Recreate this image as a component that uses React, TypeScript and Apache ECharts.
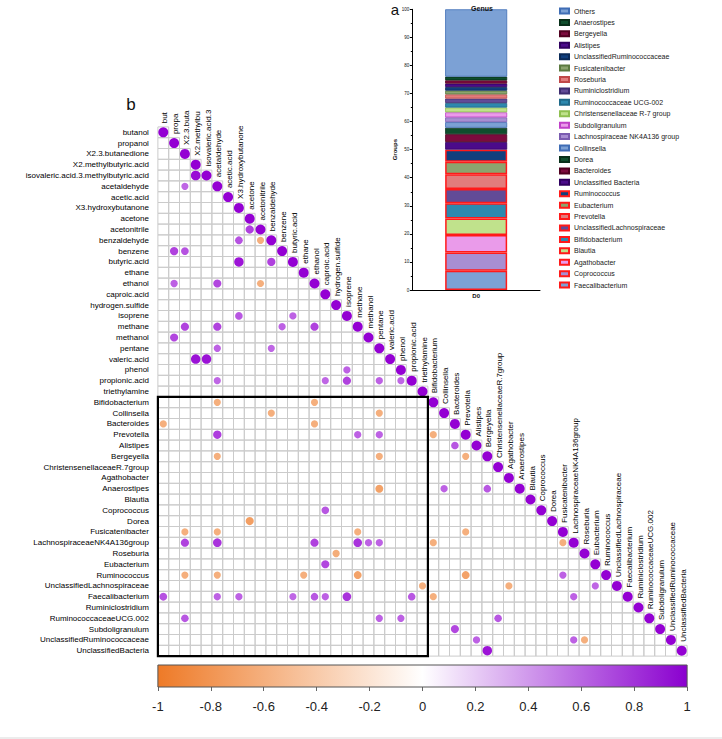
import { useEffect, useRef } from "react";
import * as echarts from "echarts";

const FONT = "'Liberation Sans', Arial, sans-serif";

// ---------- panel b : correlation matrix ----------
const gasVariables = [
  "butanol", "propanol", "X2.3.butanedione", "X2.methylbutyric.acid",
  "isovaleric.acid.3.methylbutyric.acid", "acetaldehyde", "acetic.acid",
  "X3.hydroxybutanone", "acetone", "acetonitrile", "benzaldehyde", "benzene",
  "butyric.acid", "ethane", "ethanol", "caproic.acid", "hydrogen.sulfide",
  "isoprene", "methane", "methanol", "pentane", "valeric.acid", "phenol",
  "propionic.acid", "triethylamine",
];
const bacteriaGenera = [
  "Bifidobacterium", "Collinsella", "Bacteroides", "Prevotella", "Alistipes",
  "Bergeyella", "ChristensenellaceaeR.7group", "Agathobacter", "Anaerostipes",
  "Blautia", "Coprococcus", "Dorea", "Fusicatenibacter",
  "LachnospiraceaeNK4A136group", "Roseburia", "Eubacterium", "Ruminococcus",
  "UnclassifiedLachnospiraceae", "Faecalibacterium", "Ruminiclostridium",
  "RuminococcaceaeUCG.002", "Subdoligranulum", "UnclassifiedRuminococcaceae",
  "UnclassifiedBacteria",
];
const variables = [...gasVariables, ...bacteriaGenera];
// diagonal labels that are cut by the top of the plotting region
const clippedDiagLabels = ["but", "propa", "X2.3.buta", "X2.methylbu", "isovaleric.acid.3"];

// [row, column, r]
const correlations: [string, string, number][] = [
  ["isovaleric.acid.3.methylbutyric.acid", "X2.methylbutyric.acid", 0.95],
  ["acetaldehyde", "X2.3.butanedione", 0.6],
  ["acetonitrile", "acetone", 0.75],
  ["benzaldehyde", "X3.hydroxybutanone", 0.68],
  ["benzaldehyde", "acetonitrile", -0.6],
  ["benzene", "propanol", 0.74],
  ["benzene", "X2.3.butanedione", 0.68],
  ["butyric.acid", "X3.hydroxybutanone", 0.92],
  ["butyric.acid", "benzaldehyde", 0.74],
  ["ethanol", "propanol", 0.62],
  ["ethanol", "acetaldehyde", 0.72],
  ["ethanol", "acetonitrile", -0.6],
  ["isoprene", "X3.hydroxybutanone", 0.66],
  ["isoprene", "butyric.acid", 0.62],
  ["methane", "X2.3.butanedione", 0.74],
  ["methane", "acetaldehyde", 0.74],
  ["methane", "benzene", 0.62],
  ["methane", "ethanol", 0.74],
  ["methanol", "propanol", 0.72],
  ["pentane", "acetaldehyde", 0.62],
  ["pentane", "benzaldehyde", 0.6],
  ["valeric.acid", "X2.methylbutyric.acid", 0.93],
  ["valeric.acid", "isovaleric.acid.3.methylbutyric.acid", 0.93],
  ["phenol", "isoprene", 0.62],
  ["propionic.acid", "acetaldehyde", 0.6],
  ["propionic.acid", "caproic.acid", 0.6],
  ["propionic.acid", "isoprene", 0.74],
  ["propionic.acid", "pentane", 0.62],
  ["propionic.acid", "phenol", 0.6],
  ["Bifidobacterium", "acetaldehyde", -0.6],
  ["Bifidobacterium", "ethanol", -0.6],
  ["Collinsella", "benzaldehyde", -0.6],
  ["Collinsella", "pentane", -0.6],
  ["Bacteroides", "butanol", -0.6],
  ["Bacteroides", "ethanol", -0.6],
  ["Prevotella", "acetaldehyde", 0.76],
  ["Prevotella", "methane", 0.62],
  ["Prevotella", "pentane", 0.62],
  ["Prevotella", "Bifidobacterium", -0.6],
  ["Alistipes", "Bacteroides", 0.66],
  ["Bergeyella", "acetaldehyde", -0.6],
  ["Bergeyella", "pentane", -0.6],
  ["Bergeyella", "Prevotella", -0.6],
  ["Anaerostipes", "pentane", -0.7],
  ["Anaerostipes", "Collinsella", 0.62],
  ["Anaerostipes", "Bergeyella", 0.66],
  ["Coprococcus", "caproic.acid", 0.66],
  ["Dorea", "acetone", -0.72],
  ["Fusicatenibacter", "X2.3.butanedione", -0.6],
  ["Fusicatenibacter", "acetaldehyde", -0.6],
  ["Fusicatenibacter", "methane", -0.6],
  ["Fusicatenibacter", "Prevotella", -0.6],
  ["LachnospiraceaeNK4A136group", "X2.3.butanedione", 0.74],
  ["LachnospiraceaeNK4A136group", "acetaldehyde", 0.8],
  ["LachnospiraceaeNK4A136group", "ethanol", 0.74],
  ["LachnospiraceaeNK4A136group", "methane", 0.8],
  ["LachnospiraceaeNK4A136group", "methanol", 0.62],
  ["LachnospiraceaeNK4A136group", "pentane", 0.62],
  ["LachnospiraceaeNK4A136group", "Bifidobacterium", -0.6],
  ["LachnospiraceaeNK4A136group", "Fusicatenibacter", -0.6],
  ["Roseburia", "hydrogen.sulfide", -0.62],
  ["Eubacterium", "caproic.acid", 0.72],
  ["Ruminococcus", "X2.3.butanedione", -0.6],
  ["Ruminococcus", "acetaldehyde", -0.6],
  ["Ruminococcus", "ethane", -0.6],
  ["Ruminococcus", "methane", -0.7],
  ["Ruminococcus", "Prevotella", -0.7],
  ["Ruminococcus", "Fusicatenibacter", 0.62],
  ["UnclassifiedLachnospiraceae", "triethylamine", -0.6],
  ["UnclassifiedLachnospiraceae", "Agathobacter", -0.6],
  ["UnclassifiedLachnospiraceae", "Eubacterium", 0.6],
  ["Faecalibacterium", "butanol", 0.68],
  ["Faecalibacterium", "acetaldehyde", 0.62],
  ["Faecalibacterium", "X3.hydroxybutanone", 0.62],
  ["Faecalibacterium", "butyric.acid", 0.6],
  ["Faecalibacterium", "ethanol", 0.66],
  ["Faecalibacterium", "caproic.acid", 0.62],
  ["Faecalibacterium", "isoprene", 0.8],
  ["Faecalibacterium", "propionic.acid", 0.66],
  ["Faecalibacterium", "Bifidobacterium", -0.6],
  ["Faecalibacterium", "LachnospiraceaeNK4A136group", 0.62],
  ["RuminococcaceaeUCG.002", "X2.3.butanedione", 0.66],
  ["RuminococcaceaeUCG.002", "pentane", 0.62],
  ["RuminococcaceaeUCG.002", "phenol", 0.62],
  ["RuminococcaceaeUCG.002", "ChristensenellaceaeR.7group", 0.66],
  ["Subdoligranulum", "Bacteroides", 0.72],
  ["UnclassifiedRuminococcaceae", "Alistipes", 0.62],
  ["UnclassifiedRuminococcaceae", "LachnospiraceaeNK4A136group", 0.62],
  ["UnclassifiedRuminococcaceae", "Roseburia", -0.6],
  ["UnclassifiedBacteria", "Bergeyella", 0.92],
];
const colorbarTicks = [-1, -0.8, -0.6, -0.4, -0.2, 0, 0.2, 0.4, 0.6, 0.8, 1];

// ---------- panel a : stacked bar ----------
const groups = ["D0"];
const genusStack = [
  "Faecalibacterium", "Coprococcus", "Agathobacter", "Blautia", "Bifidobacterium",
  "UnclassifiedLachnospiraceae", "Prevotella", "Eubacterium", "Ruminococcus",
  "Unclassified Bacteria", "Bacteroides", "Dorea", "Collinsella",
  "Lachnospiraceae NK4A136 group", "Subdoligranulum", "Christensenellaceae R-7 group",
  "Ruminococcaceae UCG-002", "Ruminiclostridium", "Roseburia", "Fusicatenibacter",
  "UnclassifiedRuminococcaceae", "Alistipes", "Bergeyella", "Anaerostipes", "Others",
];
const genusAbundance = [
  6.9, 6.5, 6.2, 5.9, 5.4, 5.1, 5.2, 4.5, 4.3,
  2.7, 2.8, 2.3, 2.0, 1.7, 1.8, 1.7, 1.6, 1.6, 1.5, 1.3, 1.3, 1.2, 1.2, 1.3, 24.0,
];
const highlightedGenera = genusStack.slice(0, 9);
const groupTicks = [0, 10, 20, 30, 40, 50, 60, 70, 80, 90, 100];

const paletteFill = ["#7CA1D5", "#A88ED2", "#EA9BEA", "#C0E28C", "#2D89AF", "#624B97",
  "#E27C7C", "#8CA46E", "#103F7D", "#4B0B8A", "#7C0B3E", "#0F4E2D"];
const paletteBorder = ["#3F6DB5", "#7A5CB0", "#C040C8", "#8FC050", "#1F6A8A", "#3E2C70",
  "#C04848", "#5C7A40", "#0A2A58", "#300060", "#500020", "#08301A"];

const NEG = "#EE7A27";
const POS = "#9400D3";

export default function App() {
  const ref = useRef<HTMLDivElement>(null);
  useEffect(() => {
    const chart = echarts.init(ref.current!, null, { renderer: "svg" });
    const idx = (n: string) => variables.indexOf(n);
    const n = variables.length;

    const cells: number[][] = [];
    for (let r = 0; r < n; r++) for (let c = 0; c <= r; c++) cells.push([c, r]);

    const dots: number[][] = variables.map((_, i) => [i, i, 1]);
    correlations.forEach(([row, col, v]) => dots.push([idx(col), idx(row), v]));

    const diagLabels = variables.map((v, i) => (i < clippedDiagLabels.length ? clippedDiagLabels[i] : v));

    const box = [[0, gasVariables.length, gasVariables.length - 1, n - 1]];

    const barSeries = genusStack.map((name, i) => {
      const hl = highlightedGenera.includes(name);
      return {
        type: "bar",
        name,
        stack: "genus",
        xAxisIndex: 1,
        yAxisIndex: 1,
        barWidth: 62,
        silent: true,
        data: [genusAbundance[i]],
        itemStyle: {
          color: paletteFill[i % 12],
          borderColor: hl ? "#FF1A1A" : paletteBorder[i % 12],
          borderWidth: hl ? 1.5 : 0.8,
        },
      };
    });

    const option: any = {
      animation: false,
      backgroundColor: "#fff",
      textStyle: { fontFamily: FONT },
      title: {
        text: "Genus",
        left: 477,
        top: 0,
        textAlign: "center",
        textStyle: { fontSize: 7, fontWeight: "bold", color: "#111", fontFamily: FONT },
      },
      legend: {
        orient: "vertical",
        left: 559,
        top: 7.5,
        padding: 0,
        itemWidth: 9,
        itemHeight: 5,
        itemGap: 4.42,
        icon: "rect",
        selectedMode: false,
        data: genusStack.slice().reverse(),
        textStyle: { fontSize: 7, lineHeight: 7, color: "#222", fontFamily: FONT },
      },
      grid: [
        { left: 157.9, top: 126.9, width: 529.2, height: 529.2 },
        { left: 412.3, top: 9.3, width: 127.7, height: 280.7 },
        { left: 157.9, top: 665, width: 529.2, height: 22 },
      ],
      xAxis: [
        { type: "category", gridIndex: 0, data: variables, show: false },
        {
          type: "category",
          gridIndex: 1,
          data: groups,
          axisLine: { lineStyle: { color: "#000", width: 1 } },
          axisTick: { alignWithLabel: true, length: 2, lineStyle: { color: "#000" } },
          axisLabel: { fontSize: 6, fontWeight: "bold", color: "#111", margin: 3 },
        },
        {
          type: "value",
          gridIndex: 2,
          min: colorbarTicks[0],
          max: colorbarTicks[colorbarTicks.length - 1],
          interval: 0.2,
          axisLine: { show: false },
          splitLine: { show: false },
          axisTick: { show: true, length: 4, lineStyle: { color: "#666" } },
          axisLabel: {
            fontSize: 13,
            color: "#222",
            margin: 13,
            formatter: (v: number) => String(colorbarTicks.find((t) => Math.abs(t - v) < 1e-6) ?? v),
          },
        },
      ],
      yAxis: [
        {
          type: "category",
          gridIndex: 0,
          data: variables,
          inverse: true,
          axisLine: { show: false },
          axisTick: { show: false },
          axisLabel: { fontSize: 8, color: "#000", margin: 9, interval: 0, fontFamily: FONT },
        },
        {
          type: "value",
          gridIndex: 1,
          min: groupTicks[0],
          max: groupTicks[groupTicks.length - 1],
          interval: 10,
          name: "Groups",
          nameLocation: "middle",
          nameGap: 14,
          nameTextStyle: { fontSize: 6, fontWeight: "bold", color: "#111" },
          axisLine: { show: true, lineStyle: { color: "#000", width: 1 } },
          axisTick: { show: true, length: 2.5, lineStyle: { color: "#000" } },
          minorTick: { show: true, splitNumber: 2, length: 1.5, lineStyle: { color: "#000" } },
          splitLine: { show: false },
          axisLabel: { fontSize: 4.5, color: "#111", margin: 3 },
        },
        { type: "value", gridIndex: 2, min: 0, max: 1, show: false },
      ],
      visualMap: {
        type: "continuous",
        show: false,
        min: -1,
        max: 1,
        dimension: 2,
        seriesIndex: 1,
        inRange: { color: [NEG, "#FFFFFF", POS] },
      },
      series: [
        {
          type: "custom",
          xAxisIndex: 0,
          yAxisIndex: 0,
          silent: true,
          z: 1,
          data: cells,
          renderItem: (_p: any, api: any) => {
            const p = api.coord([api.value(0), api.value(1)]);
            const s = api.size([1, 1]);
            return {
              type: "rect",
              shape: { x: p[0] - s[0] / 2, y: p[1] - s[1] / 2, width: s[0], height: s[1] },
              style: { fill: "none", stroke: "#CBCBCB", lineWidth: 1 },
            };
          },
        },
        {
          type: "scatter",
          xAxisIndex: 0,
          yAxisIndex: 0,
          silent: true,
          z: 2,
          data: dots,
          symbolSize: (v: number[]) => 10 * Math.pow(Math.abs(v[2]), 0.65),
          itemStyle: { opacity: 1 },
        },
        {
          type: "custom",
          xAxisIndex: 0,
          yAxisIndex: 0,
          silent: true,
          z: 3,
          data: box,
          encode: { x: [0, 2], y: [1, 3] },
          renderItem: (_p: any, api: any) => {
            const a = api.coord([api.value(0), api.value(1)]);
            const b = api.coord([api.value(2), api.value(3)]);
            const s = api.size([1, 1]);
            return {
              type: "rect",
              shape: { x: a[0] - s[0] / 2, y: a[1] - s[1] / 2, width: b[0] - a[0] + s[0], height: b[1] - a[1] + s[1] },
              style: { fill: "none", stroke: "#000", lineWidth: 2.2 },
            };
          },
        },
        {
          type: "custom",
          xAxisIndex: 0,
          yAxisIndex: 0,
          silent: true,
          z: 4,
          data: variables.map((_, i) => [i, i]),
          renderItem: (params: any, api: any) => {
            const p = api.coord([api.value(0), api.value(1)]);
            return {
              type: "text",
              x: p[0] + 1.5,
              y: p[1] - 9,
              rotation: Math.PI / 2,
              style: {
                text: diagLabels[params.dataIndex],
                fontSize: 8,
                fontFamily: FONT,
                fill: "#000",
                align: "left",
                verticalAlign: "middle",
              },
            };
          },
        },
        {
          type: "custom",
          xAxisIndex: 2,
          yAxisIndex: 2,
          silent: true,
          data: [[colorbarTicks[0], 0, colorbarTicks[colorbarTicks.length - 1], 1]],
          encode: { x: [0, 2], y: [1, 3] },
          renderItem: (_p: any, api: any) => {
            const a = api.coord([api.value(0), api.value(3)]);
            const b = api.coord([api.value(2), api.value(1)]);
            return {
              type: "rect",
              shape: { x: a[0], y: a[1], width: b[0] - a[0], height: b[1] - a[1] },
              style: {
                fill: new echarts.graphic.LinearGradient(0, 0, 1, 0, [
                  { offset: 0, color: NEG },
                  { offset: 0.5, color: "#FFFFFF" },
                  { offset: 1, color: "#8A00CF" },
                ]),
                stroke: "#555",
                lineWidth: 1,
              },
            };
          },
        },
        ...barSeries,
      ],
      graphic: [
        { type: "text", x: 395, y: 9, style: { text: "a", fontSize: 15, fontFamily: FONT, fill: "#111", align: "center", verticalAlign: "middle" } },
        { type: "text", x: 131, y: 104, style: { text: "b", fontSize: 17, fontFamily: FONT, fill: "#111", align: "center", verticalAlign: "middle" } },
        { type: "rect", shape: { x: 0, y: 737, width: 722, height: 2 }, style: { fill: "#ECECEC" }, silent: true },
      ],
    };
    chart.setOption(option);
    return () => chart.dispose();
  }, []);
  return (
    <div
      ref={ref}
      style={{ position: "fixed", left: 0, top: 0, width: 722, height: 739, background: "#fff" }}
    />
  );
}
